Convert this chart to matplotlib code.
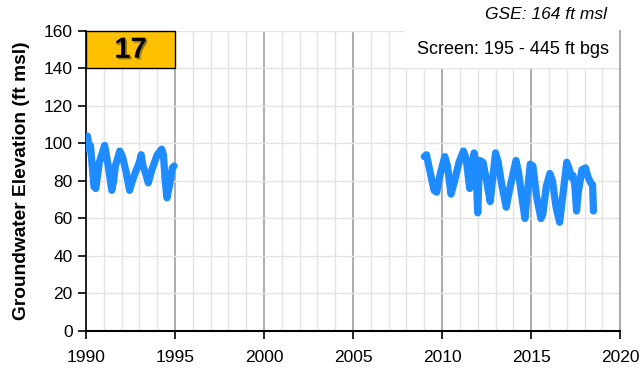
"""Groundwater elevation hydrograph for well 17."""

import matplotlib.pyplot as plt
from matplotlib.patches import Rectangle
from matplotlib.ticker import MultipleLocator
import matplotlib.patheffects as pe

# early record, 1990-1995
years_a = [1990.00, 1990.08, 1990.18, 1990.25, 1990.45, 1990.55, 1990.75, 1991.05,
           1991.25, 1991.45, 1991.55, 1991.65, 1991.90, 1992.05, 1992.25, 1992.45,
           1992.60, 1992.75, 1993.00, 1993.10, 1993.20, 1993.35, 1993.50, 1993.70,
           1993.85, 1994.00, 1994.25, 1994.35, 1994.45, 1994.55, 1994.70, 1994.85,
           1994.95]
elev_a = [97, 104, 98, 99, 77, 76, 90, 99,
          88, 75, 80, 88, 96, 93, 85, 75,
          80, 84, 90, 94, 88, 84, 79, 86,
          90, 94, 97, 94, 80, 71, 78, 87,
          88]

# recent record, 2009-2018
years_b = [2009.00, 2009.12, 2009.30, 2009.55, 2009.70, 2009.90, 2010.15, 2010.30,
           2010.50, 2010.70, 2010.95, 2011.20, 2011.35, 2011.45, 2011.55, 2011.65,
           2011.80, 2011.90, 2012.00, 2012.10, 2012.30, 2012.50, 2012.70, 2012.85,
           2013.00, 2013.15, 2013.35, 2013.60, 2013.80, 2014.15, 2014.30, 2014.50,
           2014.65, 2014.80, 2014.95, 2015.10, 2015.30, 2015.55, 2015.65, 2015.85,
           2016.05, 2016.20, 2016.40, 2016.60, 2016.75, 2017.00, 2017.15, 2017.25,
           2017.35, 2017.45, 2017.55, 2017.65, 2017.85, 2018.05, 2018.20, 2018.35,
           2018.45, 2018.50]
elev_b = [93, 94, 86, 75, 74, 84, 93, 88,
          73, 80, 90, 96, 92, 84, 76, 85,
          95, 88, 63, 91, 90, 80, 69, 82,
          95, 90, 78, 66, 76, 91, 84, 70,
          60, 75, 89, 88, 72, 60, 62, 77,
          84, 80, 66, 58, 70, 90, 86, 82,
          83, 78, 64, 74, 86, 87, 82, 79,
          78, 64]

well_id = '17'
gse_text = 'GSE: 164 ft msl'
screen_text = 'Screen: 195 - 445 ft bgs'

plt.rcParams['font.family'] = ['Liberation Sans', 'DejaVu Sans']

fig = plt.figure(figsize=(6.44, 3.73), dpi=100)
ax = fig.add_axes([0.1335, 0.1126, 0.8295, 0.8043])

line_color = '#1E8CFF'
for xs, ys in ((years_a, elev_a), (years_b, elev_b)):
    ax.plot(xs, ys, color=line_color, lw=5.2, solid_joinstyle='round',
            solid_capstyle='round', zorder=3)

ax.set_xlim(1990, 2020)
ax.set_ylim(0, 160)
ax.xaxis.set_major_locator(MultipleLocator(5))
ax.xaxis.set_minor_locator(MultipleLocator(1))
ax.yaxis.set_major_locator(MultipleLocator(20))

ax.grid(which='minor', axis='x', color='#e3e3e3', lw=1.0, zorder=0)
ax.grid(which='major', axis='x', color='#a6a6a6', lw=1.3, zorder=0)
ax.grid(which='major', axis='y', color='#e3e3e3', lw=1.0, zorder=0)
ax.set_axisbelow(True)

ax.spines['top'].set_visible(False)
ax.spines['right'].set_color('#a6a6a6')
ax.spines['right'].set_linewidth(1.3)
ax.spines['left'].set_linewidth(1.2)
ax.spines['bottom'].set_linewidth(1.5)

ax.tick_params(axis='both', which='major', direction='out', length=6, width=1.2,
               labelsize=12.5, colors='black')
ax.tick_params(axis='x', which='major', pad=8)
ax.tick_params(axis='x', which='minor', length=0)

ax.set_ylabel('Groundwater Elevation (ft msl)', fontsize=13.8, fontweight='bold',
              labelpad=10)

# well number badge
ax.add_patch(Rectangle((1990, 140), 5, 20, facecolor='#FFC000', edgecolor='black',
                       lw=1.0, zorder=4, clip_on=False))
ax.text(1992.5, 150, well_id, ha='center', va='center', fontsize=21,
        fontweight='bold', zorder=5,
        path_effects=[pe.withSimplePatchShadow(offset=(1.2, -1.2),
                                               shadow_rgbFace='#333333', alpha=0.5)])

# screen interval box
ax.add_patch(Rectangle((2007.9, 140), 12.1, 20, facecolor='white', edgecolor='none',
                       zorder=2))
ax.text(2014.0, 150, screen_text, ha='center', va='center', fontsize=13, zorder=5)

fig.text(0.943, 0.962, gse_text, ha='right', va='center', fontsize=12.5,
         style='italic')

fig.savefig('out.png', dpi=100)
